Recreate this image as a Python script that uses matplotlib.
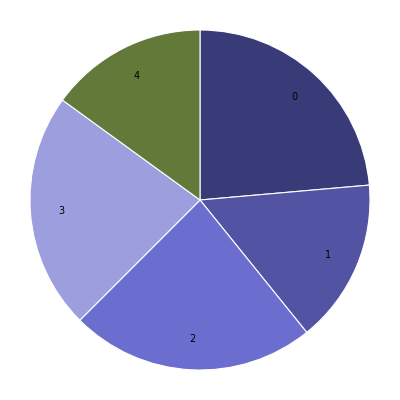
import matplotlib
matplotlib.use("Agg")
import matplotlib.pyplot as plt

labels = ["0", "1", "2", "3", "4"]
values = [23.6, 15.6, 23.3, 22.5, 15.0]
colors = ["#393b79", "#5254a3", "#6b6ecf", "#9c9ede", "#637939"]

fig = plt.figure(figsize=(4, 4), dpi=100)
ax = fig.add_axes([0, 0, 1, 1])
wedges, texts = ax.pie(values, labels=labels, colors=colors, startangle=90,
                       counterclock=False, labeldistance=0.82,
                       wedgeprops=dict(edgecolor="white", linewidth=0.8),
                       textprops=dict(fontsize=7, color="black"))
for t in texts:
    t.set_horizontalalignment("center")
    t.set_verticalalignment("center")
lim = 200 / 170
ax.set_xlim(-lim, lim)
ax.set_ylim(-lim, lim)
ax.set_aspect("equal")
ax.axis("off")
fig.savefig("out.png", dpi=100)
